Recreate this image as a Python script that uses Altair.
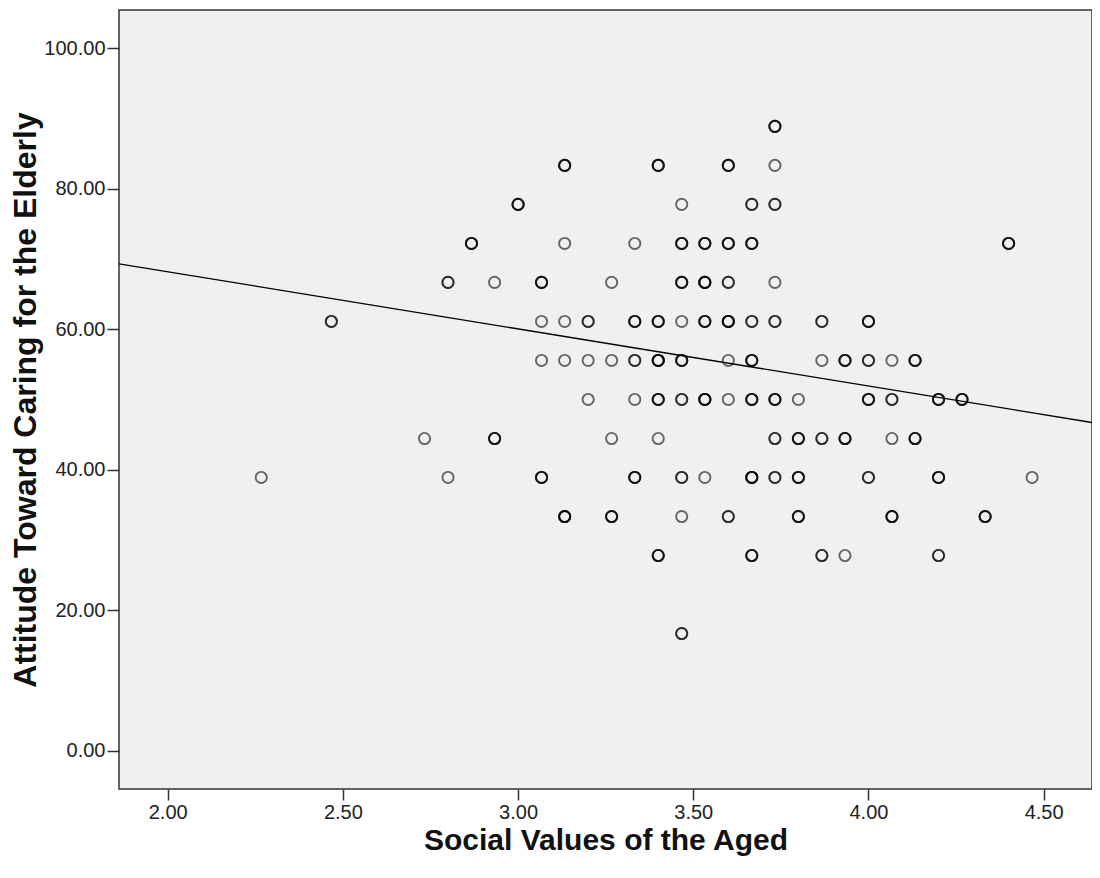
import altair as alt
import pandas as pd

# Observed points (x = Social Values of the Aged, y = Attitude Toward Caring), n = overlap count
x_vals = [3.733,
          3.133, 3.400, 3.600, 3.733,
          3.000, 3.467, 3.667, 3.733,
          2.867, 3.133, 3.333, 3.467, 3.533, 3.600, 3.667, 4.400,
          2.800, 2.933, 3.067, 3.267, 3.467, 3.533, 3.600, 3.733,
          2.467, 3.067, 3.133, 3.200, 3.333, 3.400, 3.467, 3.533, 3.600, 3.667, 3.733, 3.867, 4.000,
          3.067, 3.133, 3.200, 3.267, 3.333, 3.400, 3.467, 3.600, 3.667, 3.867, 3.933, 4.000, 4.067, 4.133,
          3.200, 3.333, 3.400, 3.467, 3.533, 3.600, 3.667, 3.733, 3.800, 4.000, 4.067, 4.200, 4.267,
          2.733, 2.933, 3.267, 3.400, 3.733, 3.800, 3.867, 3.933, 4.067, 4.133,
          2.267, 2.800, 3.067, 3.333, 3.467, 3.533, 3.667, 3.733, 3.800, 4.000, 4.200, 4.467,
          3.133, 3.267, 3.467, 3.600, 3.800, 4.067, 4.333,
          3.400, 3.667, 3.867, 3.933, 4.200,
          3.467]
y_vals = [88.89,
          83.33, 83.33, 83.33, 83.33,
          77.78, 77.78, 77.78, 77.78,
          72.22, 72.22, 72.22, 72.22, 72.22, 72.22, 72.22, 72.22,
          66.67, 66.67, 66.67, 66.67, 66.67, 66.67, 66.67, 66.67,
          61.11, 61.11, 61.11, 61.11, 61.11, 61.11, 61.11, 61.11, 61.11, 61.11, 61.11, 61.11, 61.11,
          55.56, 55.56, 55.56, 55.56, 55.56, 55.56, 55.56, 55.56, 55.56, 55.56, 55.56, 55.56, 55.56, 55.56,
          50.00, 50.00, 50.00, 50.00, 50.00, 50.00, 50.00, 50.00, 50.00, 50.00, 50.00, 50.00, 50.00,
          44.44, 44.44, 44.44, 44.44, 44.44, 44.44, 44.44, 44.44, 44.44, 44.44,
          38.89, 38.89, 38.89, 38.89, 38.89, 38.89, 38.89, 38.89, 38.89, 38.89, 38.89, 38.89,
          33.33, 33.33, 33.33, 33.33, 33.33, 33.33, 33.33,
          27.78, 27.78, 27.78, 27.78, 27.78,
          16.67]
counts = [3,
          3, 3, 3, 1,
          3, 1, 2, 2,
          3, 1, 1, 3, 3, 3, 3, 3,
          2, 1, 3, 1, 3, 4, 2, 1,
          2, 1, 1, 2, 3, 3, 1, 3, 4, 2, 2, 2, 3,
          1, 1, 1, 1, 2, 4, 3, 1, 3, 1, 3, 2, 1, 3,
          1, 1, 3, 2, 4, 1, 3, 3, 1, 3, 2, 3, 3,
          1, 3, 1, 1, 2, 3, 2, 3, 1, 3,
          1, 1, 3, 3, 2, 1, 4, 2, 3, 2, 3, 1,
          4, 3, 1, 2, 3, 3, 3,
          3, 3, 2, 1, 2,
          2]

# Fit line
fit_intercept = 84.47
fit_slope = -8.14

x_domain = [1.861, 4.638]
y_domain = [-5.47, 105.46]
x_ticks = [2.0, 2.5, 3.0, 3.5, 4.0, 4.5]
y_ticks = [0, 20, 40, 60, 80, 100]

rows = []
for xv, yv, c in zip(x_vals, y_vals, counts):
    for _ in range(c):
        rows.append({"sva": xv, "att": yv})
pts = pd.DataFrame(rows)

line_df = pd.DataFrame({
    "sva": x_domain,
    "att": [fit_intercept + fit_slope * v for v in x_domain],
})

FONT = "Liberation Sans"

x_enc = alt.X(
    "sva:Q",
    scale=alt.Scale(domain=x_domain, nice=False, zero=False),
    axis=alt.Axis(
        values=x_ticks, format=".2f", title="Social Values of the Aged",
        tickSize=11, labelPadding=2, labelFlush=False,
        titleX=486.5, titleY=51, titleAlign="center", titleBaseline="middle",
        titleFontSize=30,
    ),
)
y_enc = alt.Y(
    "att:Q",
    scale=alt.Scale(domain=y_domain, nice=False, zero=False),
    axis=alt.Axis(
        values=y_ticks, format=".2f", title="Attitude Toward Caring for the Elderly",
        tickSize=12, labelPadding=2, labelFlush=False,
        titleX=-94, titleY=389.5, titleAngle=-90, titleAlign="center", titleBaseline="middle",
        titleFontSize=32,
    ),
)

points = alt.Chart(pts).mark_point(
    shape="circle", filled=False, size=125, strokeWidth=1.9,
    color="black", opacity=0.58, clip=True,
).encode(x=x_enc, y=y_enc)

fit = alt.Chart(line_df).mark_line(color="black", strokeWidth=1.3, clip=True).encode(
    x="sva:Q", y="att:Q"
)

chart = (
    alt.layer(points, fit)
    .properties(
        width=973, height=779,
        autosize=alt.AutoSizeParams(type="none"),
        padding={"left": 111, "top": 2, "right": 0, "bottom": 80},
        background="white",
    )
    .configure_view(fill="#f0f0f0", stroke="#333333", strokeWidth=1.5)
    .configure_axis(
        grid=False, domain=False, tickColor="#333333", tickWidth=1.5,
        labelFont=FONT, labelFontSize=20, labelColor="#222222",
        titleFont=FONT, titleFontWeight="bold", titleColor="#111111",
    )
)

chart.save("out.html", embed_options={"renderer": "svg", "actions": False})
